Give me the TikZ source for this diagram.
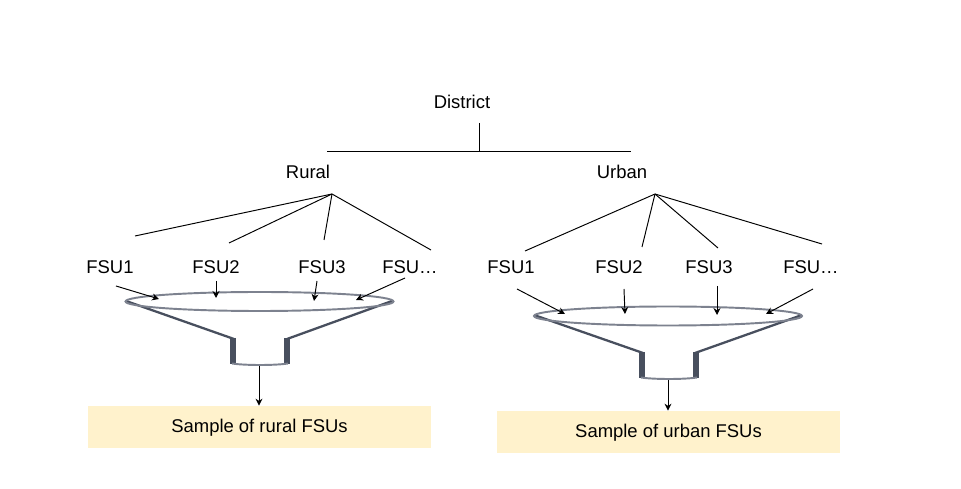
\documentclass[tikz,border=0pt]{standalone}
\usepackage{fontspec}
\setmainfont{Liberation Sans}
\usepackage{xcolor}
\definecolor{ColBox}{RGB}{255,242,204}
\definecolor{ColFun}{RGB}{72,79,94}
\definecolor{ColRim}{RGB}{125,130,143}
\usetikzlibrary{arrows.meta}
\tikzstyle{Label}=[font=\fontsize{10.5}{12}\selectfont,inner sep=0pt,text height=1.6ex,text depth=0ex]
\tikzstyle{Result}=[Label,text depth=.4ex,fill=ColBox,minimum width=6.86cm,minimum height=.84cm]
\tikzstyle{Edge}=[draw=black,line width=.55pt]
\tikzstyle{Feed}=[Edge,-{Stealth[length=4pt,width=4pt]}]
\tikzstyle{Rim}=[draw=ColRim,line width=1.1pt]
\tikzstyle{Slope}=[draw=ColFun,line width=1.3pt,line join=round]
\tikzstyle{Neck}=[draw=ColFun,line width=3pt]
\begin{document}
\begin{tikzpicture}[x=.02cm,y=-.02cm]
            \useasboundingbox(0,0)rectangle(961,489);
            \node[Label](district)at(462,101){District};
            \node[Label](rural)at(308,171){Rural};
            \node[Label](urban)at(622,171){Urban};
            \node[Label](r1)at(110,266){FSU1};
            \node[Label](r2)at(216,266){FSU2};
            \node[Label](r3)at(322,266){FSU3};
            \node[Label](r4)at(410,266){FSU…};
            \node[Label](u1)at(511,266){FSU1};
            \node[Label](u2)at(619,266){FSU2};
            \node[Label](u3)at(709,266){FSU3};
            \node[Label](u4)at(811,266){FSU…};
            \node[Result](rsample)at(259.5,427){Sample of rural FSUs};
            \node[Result](usample)at(668.5,432){Sample of urban FSUs};
            % top bar
            \coordinate(dtop)at(479,123);
            \coordinate(dmid)at(479,151);
            \coordinate(dl)at(327,151);
            \coordinate(dr)at(631,151);
            \draw[Edge](dtop)--(dmid);
            \draw[Edge](dl)--(dr);
            % fans
            \coordinate(rtip)at(332,194);
            \coordinate(utip)at(655,194);
            \coordinate(ra)at(135,236);
            \coordinate(rb)at(229,243);
            \coordinate(rc)at(324,240);
            \coordinate(rd)at(431,250);
            \coordinate(ua)at(525,251);
            \coordinate(ub)at(642,247);
            \coordinate(uc)at(718,248);
            \coordinate(ud)at(822,244);
            \draw[Edge](rtip)--(ra);
            \draw[Edge](rtip)--(rb);
            \draw[Edge](rtip)--(rc);
            \draw[Edge](rtip)--(rd);
            \draw[Edge](utip)--(ua);
            \draw[Edge](utip)--(ub);
            \draw[Edge](utip)--(uc);
            \draw[Edge](utip)--(ud);
            % funnels
            \draw[Slope](126,301)--(234,339);
            \draw[Slope](392,301)--(287,339);
            \draw[Neck](233,338)--(233,364);
            \draw[Neck](287,338)--(287,364);
            \draw[Rim](232,363.5)..controls(245,365.5)and(275,365.5)..(288,363.5);
            \draw[Rim](259.5,301.5)ellipse[x radius=134,y radius=9.5];
            \draw[Slope](534,315)--(643,353);
            \draw[Slope](802,315)--(695,353);
            \draw[Neck](642,352)--(642,378);
            \draw[Neck](696,352)--(696,378);
            \draw[Rim](641,377.5)..controls(654,379.5)and(684,379.5)..(697,377.5);
            \draw[Rim](668,316)ellipse[x radius=134,y radius=9.5];
            % arrows into funnels
            \coordinate(ra1)at(116,286);
            \coordinate(ra2)at(159,299);
            \coordinate(rb1)at(216,281);
            \coordinate(rb2)at(216,298);
            \coordinate(rc1)at(317,281);
            \coordinate(rc2)at(314,301);
            \coordinate(rd1)at(405,278);
            \coordinate(rd2)at(356,300);
            \coordinate(ua1)at(517,289);
            \coordinate(ua2)at(565,314);
            \coordinate(ub1)at(624,289);
            \coordinate(ub2)at(625,314);
            \coordinate(uc1)at(717,286);
            \coordinate(uc2)at(717,315);
            \coordinate(ud1)at(813,289);
            \coordinate(ud2)at(766,314);
            \coordinate(rout)at(259,366);
            \coordinate(uout)at(668,380);
            \draw[Feed](ra1)--(ra2);
            \draw[Feed](rb1)--(rb2);
            \draw[Feed](rc1)--(rc2);
            \draw[Feed](rd1)--(rd2);
            \draw[Feed](ua1)--(ua2);
            \draw[Feed](ub1)--(ub2);
            \draw[Feed](uc1)--(uc2);
            \draw[Feed](ud1)--(ud2);
            \draw[Feed](rout)--(rsample.north-|rout);
            \draw[Feed](uout)--(usample.north-|uout);
        \end{tikzpicture}
\end{document}
